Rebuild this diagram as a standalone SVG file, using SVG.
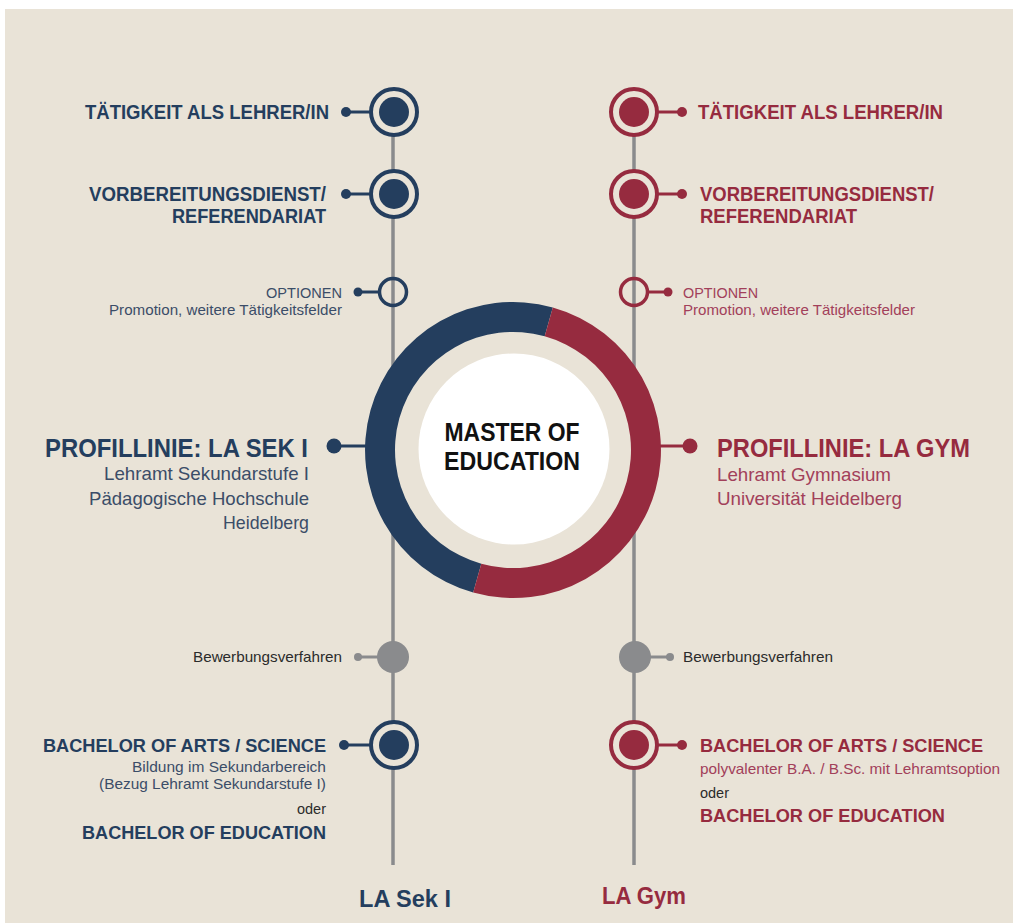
<svg xmlns="http://www.w3.org/2000/svg" width="1013" height="923" viewBox="0 0 1013 923">
<style>
text{font-family:"Liberation Sans",Arial,sans-serif}
.b{fill:#243e5e}.r{fill:#962b3f}
.bs{fill:#3b4d68}.rs{fill:#a2405a}
.h{font-weight:bold;font-size:20.5px}
.p{font-weight:bold;font-size:26.5px}
.s{font-size:19px}
.t{font-size:15px}
.e{text-anchor:end}
.dk{fill:#2b2b2b}
.vl{stroke:#8a8b8d;stroke-width:3.5}
.cb{stroke:#243e5e;stroke-width:3}
.cr{stroke:#962b3f;stroke-width:3}
</style>
<rect x="5" y="9" width="1008" height="914" fill="#e9e3d7"/>
<g id="connectors">
<line class="vl" x1="393" y1="112" x2="393" y2="865"/>
<line class="vl" x1="634" y1="112" x2="634" y2="865"/>
<line class="cb" x1="346" y1="112" x2="372" y2="112"/>
<line class="cb" x1="346" y1="194" x2="372" y2="194"/>
<line class="cb" x1="358" y1="292" x2="379" y2="292"/>
<line class="cb" x1="334" y1="446" x2="368" y2="446"/>
<line class="cb" x1="344" y1="745" x2="372" y2="745"/>
<line class="cr" x1="656" y1="112" x2="682" y2="112"/>
<line class="cr" x1="656" y1="194" x2="682" y2="194"/>
<line class="cr" x1="647" y1="292" x2="668" y2="292"/>
<line class="cr" x1="658" y1="446" x2="690" y2="446"/>
<line class="cr" x1="656" y1="745" x2="682" y2="745"/>
<line x1="358" y1="657" x2="380" y2="657" stroke="#8a8b8d" stroke-width="3"/>
<line x1="648" y1="657" x2="670" y2="657" stroke="#8a8b8d" stroke-width="3"/>
<circle cx="346" cy="112" r="5" class="b"/><circle cx="346" cy="194" r="5" class="b"/>
<circle cx="358" cy="292" r="4.5" class="b"/><circle cx="334" cy="446" r="7.5" class="b"/>
<circle cx="344" cy="745" r="5" class="b"/>
<circle cx="682" cy="112" r="5" class="r"/><circle cx="682" cy="194" r="5" class="r"/>
<circle cx="668" cy="292" r="4.5" class="r"/><circle cx="690" cy="446" r="7.5" class="r"/>
<circle cx="682" cy="745" r="5" class="r"/>
<circle cx="358" cy="657" r="4" fill="#8a8b8d"/><circle cx="670" cy="657" r="4" fill="#8a8b8d"/>
</g>
<g id="master">
<path d="M 473.2 592.6 A 148 148 0 0 1 552.8 307.4 L 544.7 336.3 A 118 118 0 0 0 481.3 563.7 Z" fill="#243e5e"/>
<path d="M 552.8 307.4 A 148 148 0 0 1 473.2 592.6 L 481.3 563.7 A 118 118 0 0 0 544.7 336.3 Z" fill="#962b3f"/>
<circle cx="514" cy="449" r="95.5" fill="#ffffff"/>
<text x="512" y="441" text-anchor="middle" font-weight="bold" font-size="25" fill="#111" textLength="135" lengthAdjust="spacingAndGlyphs">MASTER OF</text>
<text x="512" y="470" text-anchor="middle" font-weight="bold" font-size="25" fill="#111" textLength="136" lengthAdjust="spacingAndGlyphs">EDUCATION</text>
</g>
<g id="l-taetigkeit">
<circle cx="394" cy="112" r="23" fill="#e9e3d7" stroke="#243e5e" stroke-width="4"/><circle cx="394" cy="112" r="15" class="b"/>
<text class="h b e" x="329" y="119" textLength="244" lengthAdjust="spacingAndGlyphs">TÄTIGKEIT ALS LEHRER/IN</text>
</g>
<g id="l-vorbereitung">
<circle cx="394" cy="194" r="23" fill="#e9e3d7" stroke="#243e5e" stroke-width="4"/><circle cx="394" cy="194" r="15" class="b"/>
<text class="h b e" x="326" y="201" textLength="237" lengthAdjust="spacingAndGlyphs">VORBEREITUNGSDIENST/</text>
<text class="h b e" x="326" y="223" textLength="154" lengthAdjust="spacingAndGlyphs">REFERENDARIAT</text>
</g>
<g id="l-optionen">
<circle cx="393" cy="292" r="13.5" fill="none" stroke="#243e5e" stroke-width="3.5"/>
<text class="t bs e" x="342" y="298" textLength="76" lengthAdjust="spacingAndGlyphs">OPTIONEN</text>
<text class="t bs e" x="342" y="315" textLength="233" lengthAdjust="spacingAndGlyphs">Promotion, weitere Tätigkeitsfelder</text>
</g>
<g id="l-profil">
<text class="p b e" x="308" y="457" textLength="263" lengthAdjust="spacingAndGlyphs">PROFILLINIE: LA SEK I</text>
<text class="s bs e" x="309" y="480" textLength="205" lengthAdjust="spacingAndGlyphs">Lehramt Sekundarstufe I</text>
<text class="s bs e" x="309" y="505" textLength="220" lengthAdjust="spacingAndGlyphs">Pädagogische Hochschule</text>
<text class="s bs e" x="309" y="529" textLength="86" lengthAdjust="spacingAndGlyphs">Heidelberg</text>
</g>
<g id="l-bewerbung">
<circle cx="393" cy="657" r="16" fill="#8a8b8d"/>
<text class="t dk e" x="342" y="662" textLength="149" lengthAdjust="spacingAndGlyphs">Bewerbungsverfahren</text>
</g>
<g id="l-bachelor">
<circle cx="394" cy="745" r="23" fill="#e9e3d7" stroke="#243e5e" stroke-width="4"/><circle cx="394" cy="745" r="15" class="b"/>
<text class="b e" x="326" y="752" font-weight="bold" font-size="19" textLength="283" lengthAdjust="spacingAndGlyphs">BACHELOR OF ARTS / SCIENCE</text>
<text class="t bs e" x="326" y="772" textLength="194" lengthAdjust="spacingAndGlyphs">Bildung im Sekundarbereich</text>
<text class="t bs e" x="326" y="789" textLength="227" lengthAdjust="spacingAndGlyphs">(Bezug Lehramt Sekundarstufe I)</text>
<text class="t dk e" x="326" y="814" textLength="29" lengthAdjust="spacingAndGlyphs">oder</text>
<text class="b e" x="326" y="839" font-weight="bold" font-size="19" textLength="244" lengthAdjust="spacingAndGlyphs">BACHELOR OF EDUCATION</text>
</g>
<g id="r-taetigkeit">
<circle cx="634" cy="112" r="23" fill="#e9e3d7" stroke="#962b3f" stroke-width="4"/><circle cx="634" cy="112" r="15" class="r"/>
<text class="h r" x="698" y="119" textLength="245" lengthAdjust="spacingAndGlyphs">TÄTIGKEIT ALS LEHRER/IN</text>
</g>
<g id="r-vorbereitung">
<circle cx="634" cy="194" r="23" fill="#e9e3d7" stroke="#962b3f" stroke-width="4"/><circle cx="634" cy="194" r="15" class="r"/>
<text class="h r" x="700" y="201" textLength="234" lengthAdjust="spacingAndGlyphs">VORBEREITUNGSDIENST/</text>
<text class="h r" x="700" y="223" textLength="157" lengthAdjust="spacingAndGlyphs">REFERENDARIAT</text>
</g>
<g id="r-optionen">
<circle cx="634" cy="292" r="13.5" fill="none" stroke="#962b3f" stroke-width="3.5"/>
<text class="t rs" x="683" y="298" textLength="75" lengthAdjust="spacingAndGlyphs">OPTIONEN</text>
<text class="t rs" x="683" y="315" textLength="232" lengthAdjust="spacingAndGlyphs">Promotion, weitere Tätigkeitsfelder</text>
</g>
<g id="r-profil">
<text class="p r" x="717" y="457" textLength="253" lengthAdjust="spacingAndGlyphs">PROFILLINIE: LA GYM</text>
<text class="s rs" x="717" y="481" textLength="174" lengthAdjust="spacingAndGlyphs">Lehramt Gymnasium</text>
<text class="s rs" x="717" y="505" textLength="185" lengthAdjust="spacingAndGlyphs">Universität Heidelberg</text>
</g>
<g id="r-bewerbung">
<circle cx="635" cy="657" r="16" fill="#8a8b8d"/>
<text class="t dk" x="683" y="662" textLength="150" lengthAdjust="spacingAndGlyphs">Bewerbungsverfahren</text>
</g>
<g id="r-bachelor">
<circle cx="634" cy="745" r="23" fill="#e9e3d7" stroke="#962b3f" stroke-width="4"/><circle cx="634" cy="745" r="15" class="r"/>
<text class="r" x="700" y="752" font-weight="bold" font-size="19" textLength="283" lengthAdjust="spacingAndGlyphs">BACHELOR OF ARTS / SCIENCE</text>
<text class="t rs" x="700" y="774" textLength="300" lengthAdjust="spacingAndGlyphs">polyvalenter B.A. / B.Sc. mit Lehramtsoption</text>
<text class="t dk" x="700" y="798" textLength="29" lengthAdjust="spacingAndGlyphs">oder</text>
<text class="r" x="700" y="822" font-weight="bold" font-size="19" textLength="245" lengthAdjust="spacingAndGlyphs">BACHELOR OF EDUCATION</text>
</g>
<g id="labels">
<text class="b" x="359" y="907" font-weight="bold" font-size="23.5" textLength="92" lengthAdjust="spacingAndGlyphs">LA Sek I</text>
<text class="r" x="602" y="904" font-weight="bold" font-size="23.5" textLength="84" lengthAdjust="spacingAndGlyphs">LA Gym</text>
</g>
</svg>
